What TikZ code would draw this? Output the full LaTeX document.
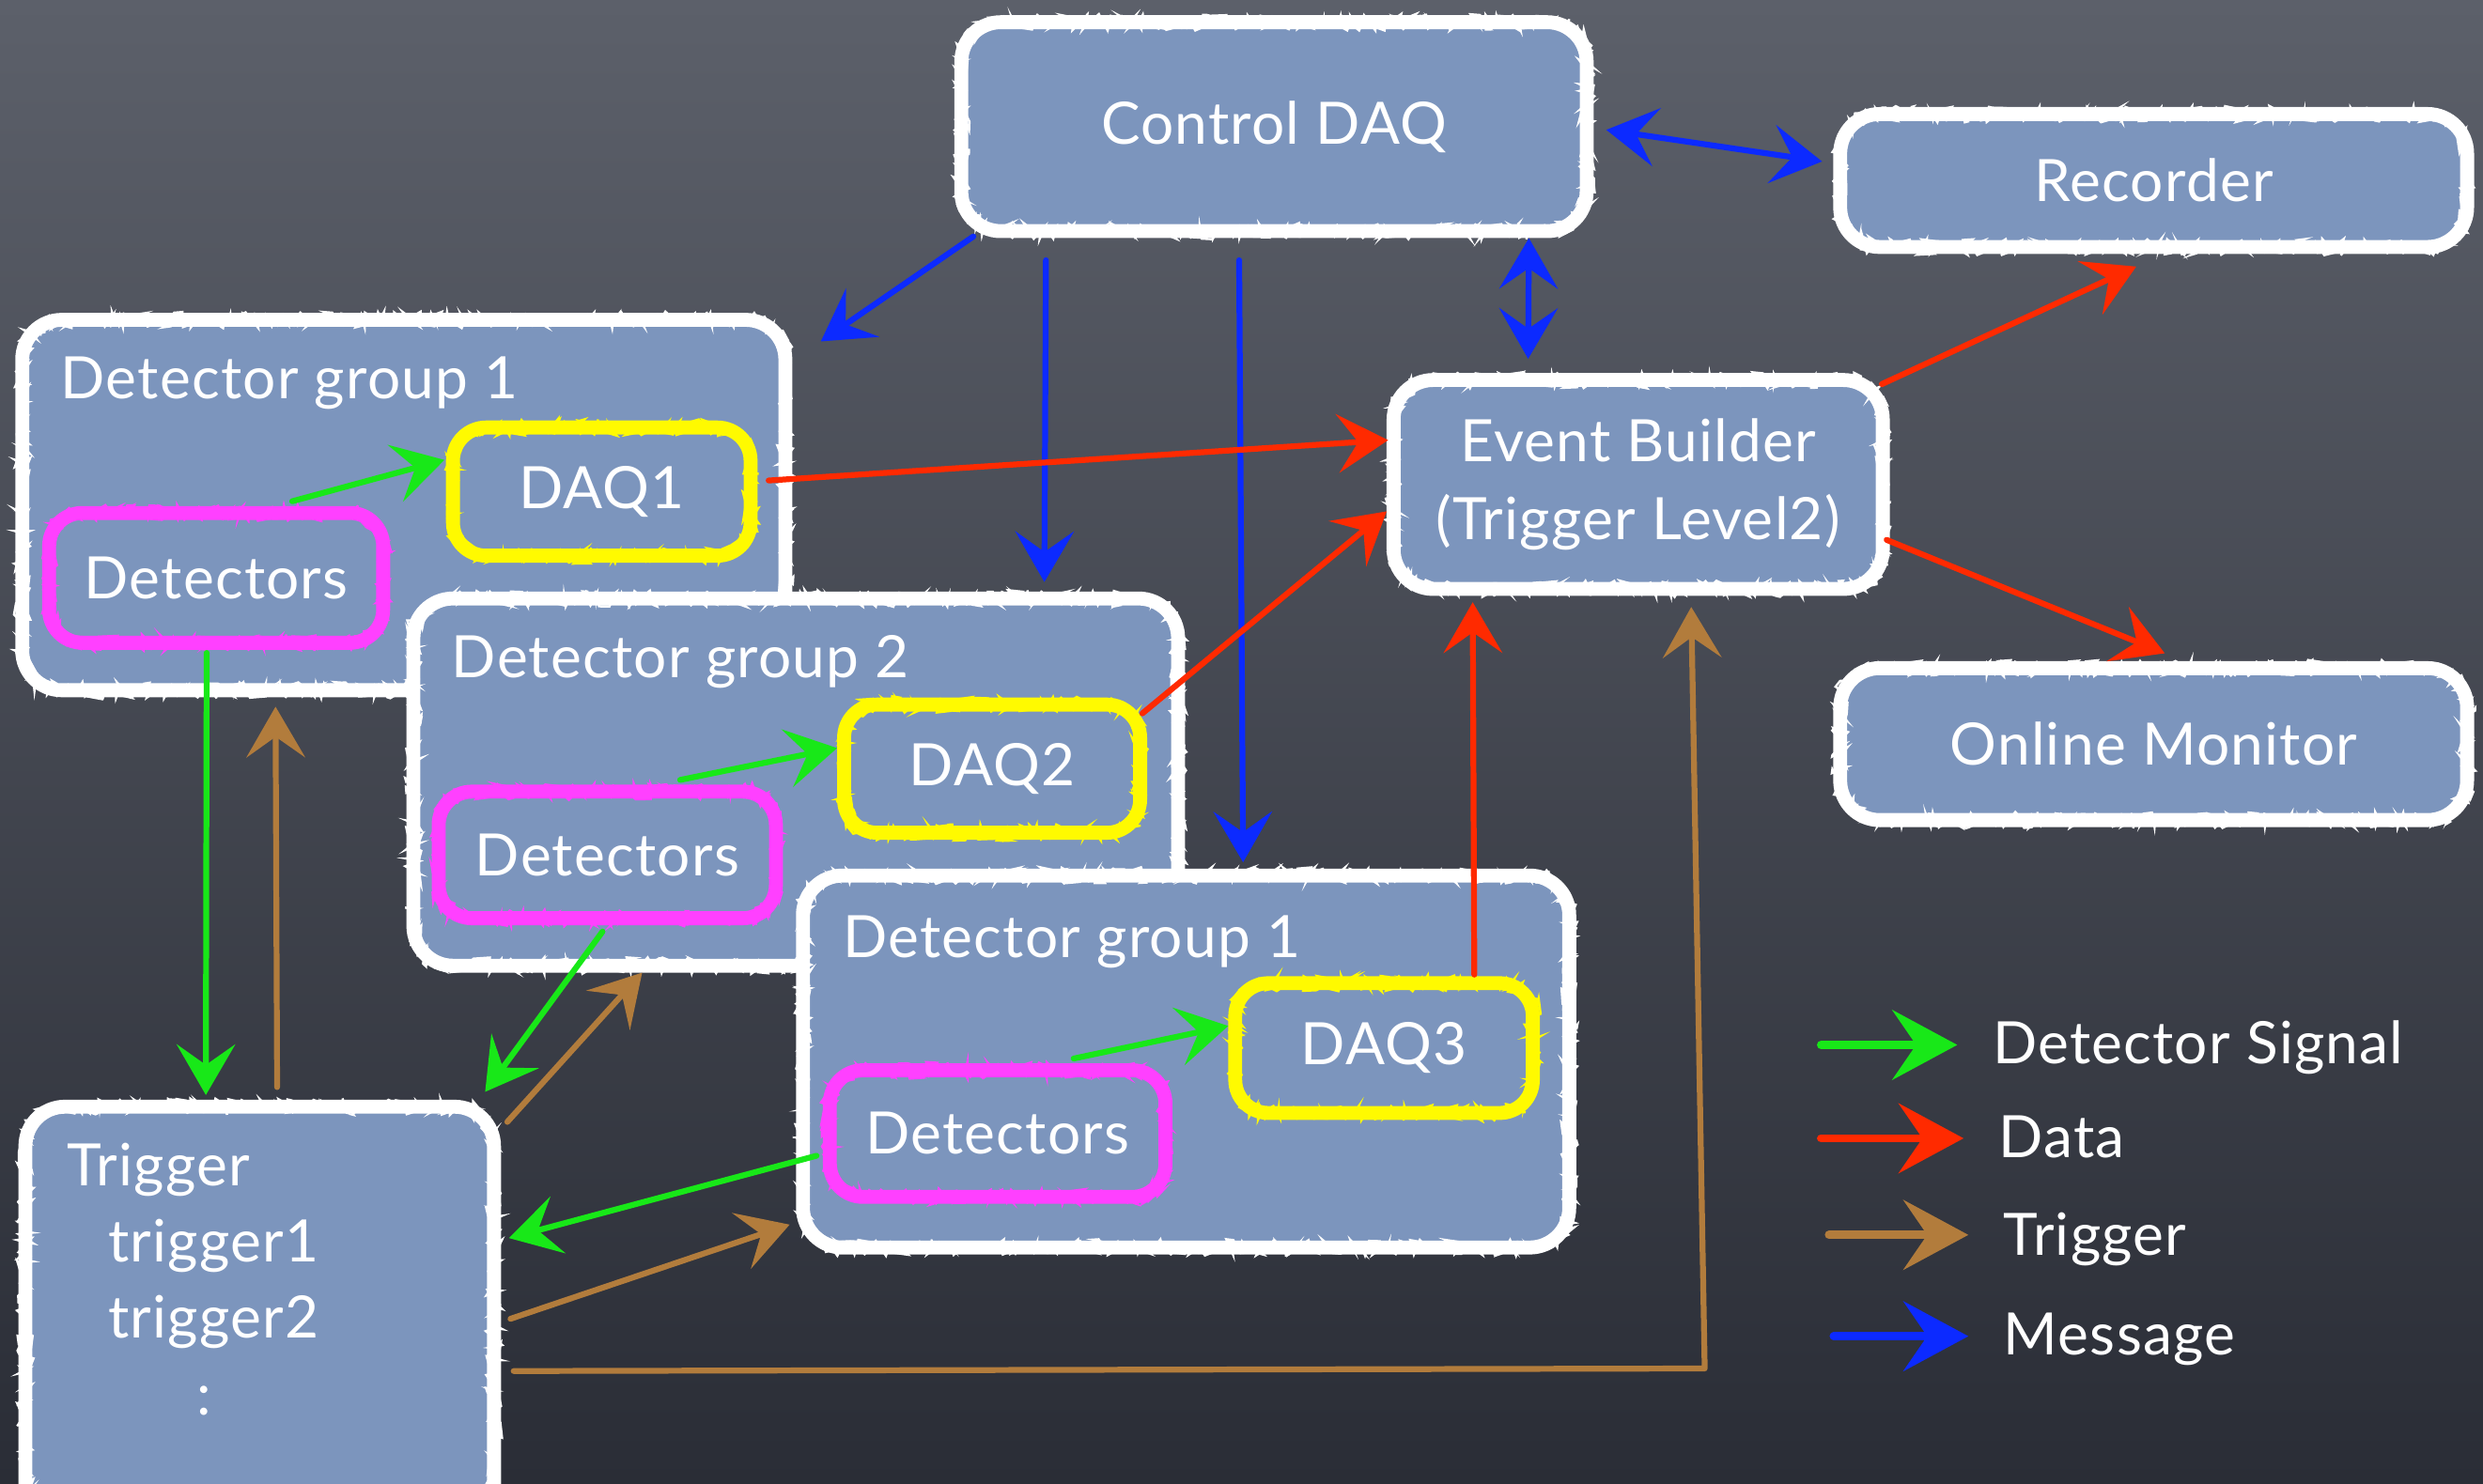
\documentclass[tikz,border=0pt]{standalone}
\usepackage{fontspec}
\setmainfont[LetterSpace=2]{Lato}
\usetikzlibrary{arrows.meta,calc,decorations.pathmorphing}

\definecolor{boardtop}{RGB}{92,96,106}
\definecolor{boardmid}{RGB}{66,70,80}
\definecolor{boardbottom}{RGB}{42,45,54}
\definecolor{panel}{RGB}{124,149,189}
\definecolor{chalkyellow}{RGB}{255,250,0}
\definecolor{chalkpink}{RGB}{255,64,255}
\definecolor{sigcol}{RGB}{24,232,24}
\definecolor{datacol}{RGB}{255,42,0}
\definecolor{trigcol}{RGB}{178,124,60}
\definecolor{msgcol}{RGB}{12,42,255}

\newcommand{\chalkfont}{\fontsize{21}{28}\selectfont}

\tikzset{
  % thin jittered stroke over the clean border gives it a chalky edge
  chalkedge/.style={postaction={decorate, sharp corners, draw=#1, line width=0.8pt,
      decoration={random steps, segment length=1pt, amplitude=3pt}}},
  panelbox/.style={draw=white, line width=5pt, fill=panel, chalkedge=white,
    rounded corners=0.5cm, inner sep=0pt, text=white, font=\chalkfont},
  unitbox/.style={line width=5pt, rounded corners=0.42cm,
    inner sep=0pt, text=white, font=\chalkfont},
  daqbox/.style={unitbox, draw=chalkyellow, chalkedge=chalkyellow},
  detbox/.style={unitbox, draw=chalkpink, chalkedge=chalkpink},
  words/.style={text=white, font=\chalkfont, inner sep=0pt, anchor=base west},
  headtip/.style={-{Stealth[length=0.64cm, width=0.74cm, inset=0.26cm]}},
  twotips/.style={{Stealth[length=0.64cm, width=0.74cm, inset=0.26cm]}-{Stealth[length=0.64cm, width=0.74cm, inset=0.26cm]}},
  wire/.style={line width=2.1pt, line cap=round, line join=round},
  sig/.style={wire, headtip, draw=sigcol},
  data/.style={wire, headtip, draw=datacol},
  trg/.style={wire, headtip, draw=trigcol},
  msg/.style={wire, headtip, draw=msgcol},
  msgboth/.style={wire, twotips, draw=msgcol},
  legendarrow/.style={line width=3pt, line cap=round,
    -{Stealth[length=0.82cm, width=0.88cm, inset=0.3cm]}, shorten >=0.44cm},
}

\begin{document}
\begin{tikzpicture}[x=0.02cm, y=-0.02cm]
\useasboundingbox (0,0) rectangle (1568,937);
\clip (0,0) rectangle (1568,937);

% chalkboard
\shade[top color=boardtop, middle color=boardmid, bottom color=boardbottom] (0,0) rectangle (1568,937);

% top row
\node[panelbox, minimum width=7.9cm, minimum height=2.64cm] (ctrl) at (804.5,80) {Control DAQ};
\node[panelbox, minimum width=7.92cm, minimum height=1.68cm] (rec) at (1360,114) {Recorder};
\node[panelbox, minimum width=6.18cm, minimum height=2.64cm, align=center] (eb) at (1034.5,306) {Event Builder\\(Trigger Level2)};
\node[panelbox, minimum width=7.92cm, minimum height=1.92cm] (mon) at (1360,470) {Online Monitor};

% detector group 1
\node[panelbox, minimum width=9.64cm, minimum height=4.68cm] (g1) at (255,319) {};
\node[words] (g1t) at (38,252) {Detector group 1};
\node[detbox, minimum width=4.22cm, minimum height=1.64cm] (det1) at (136.5,365) {Detectors};
\node[daqbox, minimum width=3.76cm, minimum height=1.62cm] (daq1) at (380,310.5) {DAQ1};

% detector group 2
\node[panelbox, minimum width=9.66cm, minimum height=4.64cm] (g2) at (502.5,494) {};
\node[words] (g2t) at (285,428) {Detector group 2};
\node[detbox, minimum width=4.26cm, minimum height=1.6cm] (det2) at (383.5,540) {Detectors};
\node[daqbox, minimum width=3.74cm, minimum height=1.62cm] (daq2) at (626.5,485.5) {DAQ2};

% detector group 3
\node[panelbox, minimum width=9.68cm, minimum height=4.7cm] (g3) at (749,670.5) {};
\node[words] (g3t) at (532,605) {Detector group 1};
\node[detbox, minimum width=4.24cm, minimum height=1.6cm] (det3) at (630,716) {Detectors};
\node[daqbox, minimum width=3.76cm, minimum height=1.64cm] (daq3) at (874,662) {DAQ3};

% trigger
\node[panelbox, minimum width=5.92cm, minimum height=5.6cm] (trig) at (164,839) {};
\node[words] (trigt) at (42,749) {Trigger};
\node[words] (trig1) at (68,797) {trigger1};
\node[words] (trig2) at (68,845) {trigger2};
\node[words] (trigdots) at (124,894) {:};

% messages
\draw[msg] ($(ctrl.south west)+(12,-1)$) -- ($(g1.north east)+(18,18)$);
\draw[msg] ($(ctrl.south)+(-144,14)$) -- ($(g2.north)+(157,-6)$);
\draw[msg] ($(ctrl.south)+(-22,14)$) -- ($(g3.north)+(36,-4)$);
\draw[msgboth] ($(ctrl.east)+(8,2)$) -- ($(rec.west)+(-7,-12)$);
\draw[msgboth] ($(ctrl.south)+(161,0)$) -- ($(eb.north)+(-69.5,-9)$);

% data
\draw[data] ($(daq1.east)+(7,-7)$) -- ($(eb.west)+(1,-28)$);
\draw[data] ($(daq2.north east)+(-3,10)$) -- ($(eb.west)+(0,17)$);
\draw[data] ($(daq3.north)+(57,-1)$) -- ($(eb.south)+(-104.5,4)$);
\draw[data] ($(eb.north east)+(-5,7)$) -- ($(rec.south)+(-11,8)$);
\draw[data] ($(eb.east)+(-2,35)$) -- ($(mon.north)+(7,-5)$);

% detector signals
\draw[sig] ($(det1.north)+(48,-3)$) -- ($(daq1.west)+(-1,-20)$);
\draw[sig] ($(det2.north)+(46,-3)$) -- ($(daq2.west)+(0,-13)$);
\draw[sig] ($(det3.north)+(48,-3)$) -- ($(daq3.west)+(0,-14)$);
\draw[sig] ($(det1.south)+(-6,2)$) -- ($(trig.north)+(-34,-3)$);
\draw[sig] ($(det2.south)+(-3,4)$) -- ($(trig.north east)+(-10,-5)$);
\draw[sig] ($(det3.west)+(-4,14)$) -- ($(trig.east)+(5,-57)$);

% triggers
\draw[trg] ($(trig.north)+(11,-8)$) -- ($(g1.south)+(-81,6)$);
\draw[trg] ($(trig.north east)+(4,14)$) -- ($(g2.south)+(-97,0)$);
\draw[trg] ($(trig.east)+(6,-6)$) -- ($(g3.west)+(-4,103)$);
\draw[trg] ($(trig.east)+(8,27)$) -- ($(eb.south)+(42,488)$) -- ($(eb.south)+(33.5,7)$);

% legend
\node[words] (lgsig) at (1258,672) {Detector Signal};
\node[words] (lgdata) at (1262,731) {Data};
\node[words] (lgtrig) at (1265,793) {Trigger};
\node[words] (lgmsg) at (1265,856) {Message};
\coordinate (lgsig0) at (1150,660);
\coordinate (lgdata0) at (1150,719);
\coordinate (lgtrig0) at (1155,780);
\coordinate (lgmsg0) at (1158,844);
\draw[legendarrow, draw=sigcol] (lgsig0) -- (lgsig0 -| lgsig.west);
\draw[legendarrow, draw=datacol] (lgdata0) -- (lgdata0 -| lgdata.west);
\draw[legendarrow, draw=trigcol] (lgtrig0) -- (lgtrig0 -| lgtrig.west);
\draw[legendarrow, draw=msgcol] (lgmsg0) -- (lgmsg0 -| lgmsg.west);
\end{tikzpicture}
\end{document}
